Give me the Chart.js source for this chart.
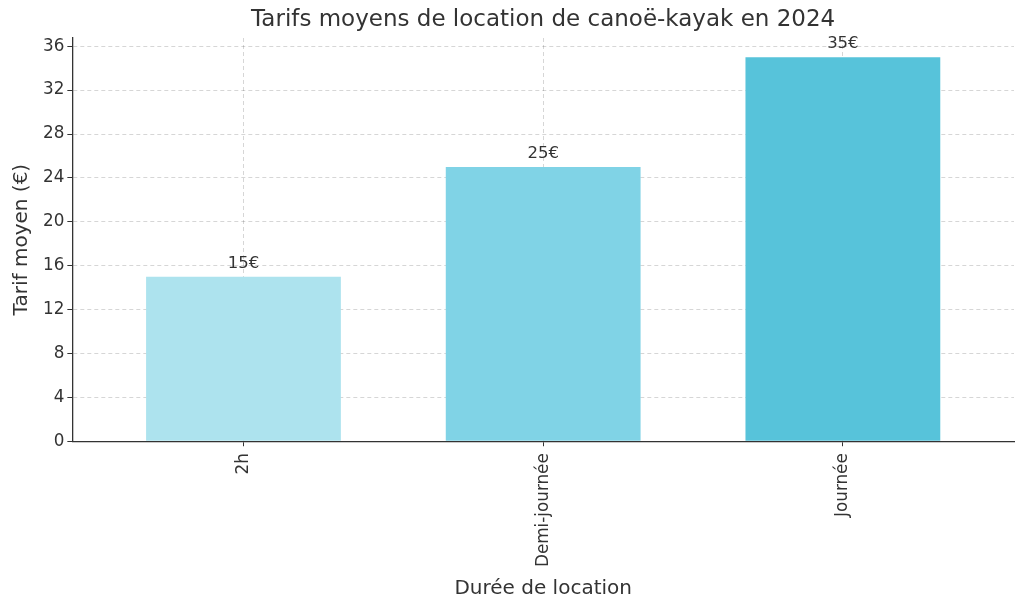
<!DOCTYPE html>
<html>
<head>
<meta charset="utf-8">
<script src="https://cdn.jsdelivr.net/npm/chart.js@4"></script>
<style>
html,body{margin:0;padding:0;background:#fff;}
#wrap{width:1024px;height:608px;}
</style>
</head>
<body>
<div id="wrap"><canvas id="c" width="1024" height="608"></canvas></div>
<script>
const categories = ["2h", "Demi-journée", "Journée"];
const values = [15, 25, 35];
const barColors = ["#ade3ee", "#80d3e6", "#57c3da"];
const yTicks = [0, 4, 8, 12, 16, 20, 24, 28, 32, 36];
const labelSuffix = "€";
const chartTitle = "Tarifs moyens de location de canoë-kayak en 2024";

const FONT = "'DejaVu Sans', sans-serif";
const TXT = "#333333";

const valueLabels = {
  id: 'valueLabels',
  afterDatasetsDraw(chart) {
    const ctx = chart.ctx;
    const meta = chart.getDatasetMeta(0);
    ctx.save();
    ctx.font = "16.5px " + FONT;
    ctx.fillStyle = TXT;
    ctx.textAlign = 'center';
    ctx.textBaseline = 'bottom';
    meta.data.forEach((bar, i) => {
      ctx.fillText(values[i] + labelSuffix, bar.x, bar.y - 5);
    });
    ctx.restore();
  }
};

const plotTitle = {
  id: 'plotTitle',
  afterDraw(chart) {
    const ctx = chart.ctx;
    const a = chart.chartArea;
    ctx.save();
    ctx.font = "23px " + FONT;
    ctx.fillStyle = TXT;
    ctx.textAlign = 'center';
    ctx.textBaseline = 'middle';
    ctx.fillText(chartTitle, (a.left + a.right) / 2, 20);
    ctx.restore();
  }
};

new Chart(document.getElementById('c'), {
  type: 'bar',
  data: {
    datasets: [{
      data: values.map((v, i) => ({x: i, y: v})),
      backgroundColor: barColors,
      borderWidth: 0,
      barPercentage: 0.65,
      categoryPercentage: 1.0
    }]
  },
  options: {
    responsive: false,
    animation: false,
    layout: {padding: {left: 10, right: 10, top: 38, bottom: 7}},
    plugins: {
      legend: {display: false},
      tooltip: {enabled: false},
      title: {display: false}
    },
    scales: {
      x: {
        type: 'linear',
        min: -0.571,
        max: 2.571,
        offset: false,
        afterBuildTicks(axis) { axis.ticks = categories.map((c, i) => ({value: i})); },
        ticks: {
          callback: (v) => categories[v] ?? '',
          autoSkip: false,
          maxRotation: 90,
          minRotation: 90,
          color: TXT,
          font: {family: FONT, size: 16.8},
          padding: 7
        },
        grid: {
          display: true,
          offset: false,
          color: 'rgba(0,0,0,0.16)',
          tickColor: '#333',
          tickLength: 5,
          drawTicks: true
        },
        border: {display: true, color: '#333', width: 1.3, dash: [4, 3]},
        title: {
          display: true,
          text: "Durée de location",
          color: TXT,
          font: {family: FONT, size: 20},
          padding: {top: 3, bottom: 0}
        }
      },
      y: {
        min: 0,
        max: 36.75,
        afterBuildTicks(axis) { axis.ticks = yTicks.map(v => ({value: v})); },
        ticks: {
          color: TXT,
          font: {family: FONT, size: 16.8},
          padding: 3
        },
        grid: {
          color: 'rgba(0,0,0,0.16)',
          tickColor: '#333',
          tickLength: 5
        },
        border: {display: true, color: '#333', width: 1.3, dash: [4, 3]},
        title: {
          display: true,
          text: "Tarif moyen (€)",
          color: TXT,
          font: {family: FONT, size: 20},
          padding: {top: 0, bottom: 6}
        }
      }
    }
  },
  plugins: [valueLabels, plotTitle]
});
</script>
</body>
</html>
